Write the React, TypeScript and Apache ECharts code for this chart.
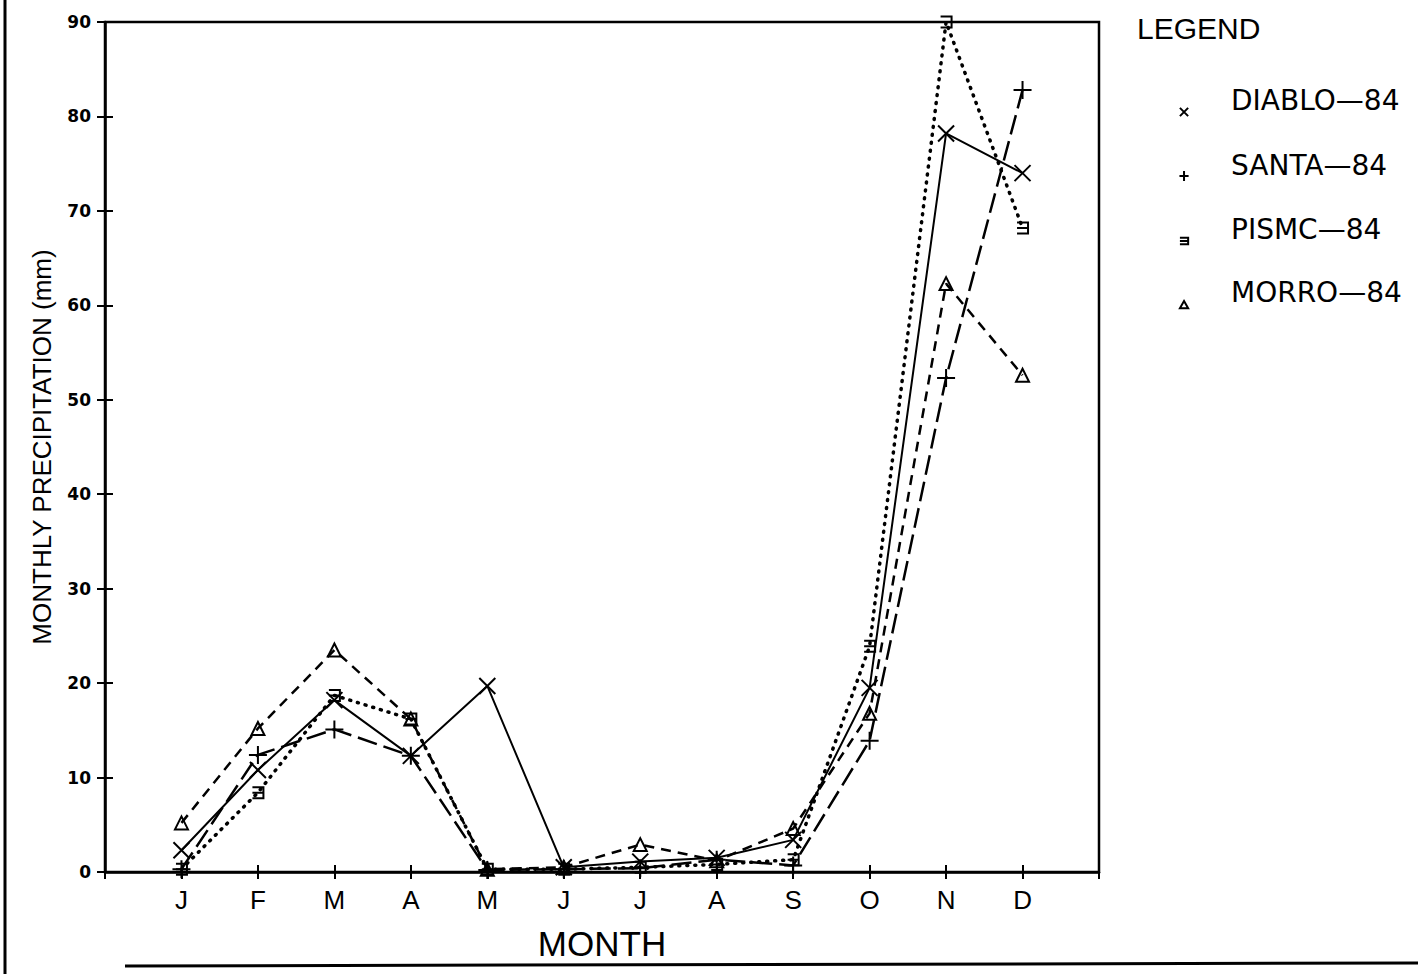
import React, { useEffect, useRef } from "react";
import * as echarts from "echarts";

const MONTHS = ["J", "F", "M", "A", "M", "J", "J", "A", "S", "O", "N", "D"];
const Y_TICKS = [0, 10, 20, 30, 40, 50, 60, 70, 80, 90];

const SERIES_NAMES = ["DIABLO—84", "SANTA—84", "PISMC—84", "MORRO—84"];
const DIABLO = [2.3, 10.8, 18.2, 12.3, 19.7, 0.5, 1.1, 1.5, 3.4, 19.5, 78.2, 74.0];
const SANTA = [0.3, 12.4, 15.1, 12.3, 0.2, 0.3, 0.4, 1.3, 0.7, 13.9, 52.3, 82.8];
const PISMO = [0.3, 8.4, 18.7, 16.2, 0.3, 0.3, 0.5, 0.8, 1.3, 23.9, 90.0, 68.2];
const MORRO = [5.2, 15.2, 23.5, 16.2, 0.3, 0.5, 2.9, 1.2, 4.6, 16.8, 62.3, 52.6];

const X_ICON = "path://M0,0L10,10M0,10L10,0";
const PLUS_ICON = "path://M5,0L5,10M0,5L10,5";
const BRACKET_ICON = "path://M0,0L9,0L9,10L0,10M0,5L9,5";
const TRI_ICON = "path://M5,0L10,9L0,9Z";

// legend icons: invisible move-to points widen the box so the mark sits low and left
const LEG_PAD = "M0,-24M51.4,-24";
const LEG_X = "path://" + LEG_PAD + "M1,1L10,10M1,10L10,1";
const LEG_PLUS = "path://" + LEG_PAD + "M5.5,0L5.5,11M0.5,5.5L10.5,5.5";
const LEG_EQ = "path://" + LEG_PAD + "M1,2L10,2L10,9L1,9M1,5.5L10,5.5";
const LEG_TRI = "path://" + LEG_PAD + "M5.5,2L10,10L1,10Z";

export default function App() {
  const ref = useRef<HTMLDivElement>(null);

  useEffect(() => {
    if (!ref.current) return;
    const chart = echarts.init(ref.current, null, { renderer: "svg" });

    const toPts = (arr: number[]) => arr.map((v, i) => [i + 1, v]);
    const styles = [
      { data: DIABLO, symbol: X_ICON, legendIcon: LEG_X, size: 16, type: "solid" as any, width: 2, cap: "butt" },
      { data: SANTA, symbol: PLUS_ICON, legendIcon: LEG_PLUS, size: 18, type: [20, 7], width: 2.5, cap: "butt" },
      { data: PISMO, symbol: BRACKET_ICON, legendIcon: LEG_EQ, size: 11, type: [1, 7], width: 3.5, cap: "round" },
      { data: MORRO, symbol: TRI_ICON, legendIcon: LEG_TRI, size: 13, type: [10, 7], width: 2.5, cap: "butt" },
    ];

    const axisFont = "'Liberation Sans', Arial, sans-serif";

    const option: any = {
      animation: false,
      backgroundColor: "#fff",
      title: {
        text: "LEGEND",
        left: 1132,
        top: 8,
        textStyle: { fontFamily: axisFont, fontSize: 30, fontWeight: "normal", color: "#000" },
      },
      legend: {
        orient: "vertical",
        left: 1173,
        top: 79,
        itemWidth: 47,
        itemHeight: 40,
        itemGap: 31,
        symbolKeepAspect: true,
        selectedMode: false,
        data: SERIES_NAMES.map((n, i) => ({ name: n, icon: styles[i].legendIcon })),
        itemStyle: { color: "transparent", borderColor: "#000", borderWidth: 2 },
        textStyle: {
          fontFamily: "'DejaVu Sans', sans-serif",
          fontSize: 28,
          color: "#000",
        },
      },
      grid: {
        left: 105,
        right: 319,
        top: 22,
        bottom: 102,
        show: true,
        borderColor: "#000",
        borderWidth: 2.5,
      },
      xAxis: [
        {
          type: "value",
          min: 0,
          max: 13,
          interval: 1,
          position: "bottom",
          name: "MONTH",
          nameLocation: "middle",
          nameGap: 54,
          nameTextStyle: { fontFamily: axisFont, fontSize: 35, color: "#000" },
          axisLine: { show: true, lineStyle: { color: "#000", width: 2.5 } },
          axisTick: { show: true, inside: false, length: 7, lineStyle: { color: "#000", width: 2 } },
          axisLabel: {
            margin: 15,
            fontFamily: axisFont,
            fontSize: 26,
            color: "#000",
            formatter: (v: number) => MONTHS[v - 1] ?? "",
          },
          splitLine: { show: false },
        },
        {
          type: "value",
          min: 0,
          max: 13,
          interval: 1,
          position: "bottom",
          axisLine: { show: false },
          axisTick: { show: true, inside: true, length: 7, lineStyle: { color: "#000", width: 2 } },
          axisLabel: { show: false },
          splitLine: { show: false },
        },
      ],
      yAxis: [
        {
          type: "value",
          min: Y_TICKS[0],
          max: Y_TICKS[Y_TICKS.length - 1],
          interval: 10,
          position: "left",
          name: "MONTHLY PRECIPITATION (mm)",
          nameLocation: "middle",
          nameGap: 50,
          nameRotate: 90,
          nameTextStyle: { fontFamily: axisFont, fontSize: 26, color: "#000" },
          axisLine: { show: true, lineStyle: { color: "#000", width: 2.5 } },
          axisTick: { show: true, inside: false, length: 8, lineStyle: { color: "#000", width: 2 } },
          axisLabel: {
            margin: 14,
            fontFamily: "'DejaVu Sans', sans-serif",
            fontWeight: "bold",
            fontSize: 17,
            color: "#000",
          },
          splitLine: { show: false },
        },
        {
          type: "value",
          min: Y_TICKS[0],
          max: Y_TICKS[Y_TICKS.length - 1],
          interval: 10,
          position: "left",
          axisLine: { show: false },
          axisTick: { show: true, inside: true, length: 8, lineStyle: { color: "#000", width: 2 } },
          axisLabel: { show: false },
          splitLine: { show: false },
        },
      ],
      series: styles.map((s, i) => ({
        name: SERIES_NAMES[i],
        type: "line",
        xAxisIndex: 0,
        yAxisIndex: 0,
        data: toPts(s.data),
        symbol: s.symbol,
        symbolSize: s.size,
        showAllSymbol: true,
        lineStyle: { color: "#000", width: s.width, type: s.type, cap: s.cap },
        itemStyle: { color: "transparent", borderColor: "#000", borderWidth: 2 },
        emphasis: { disabled: true },
      })),
      graphic: [
        {
          type: "line",
          shape: { x1: 5, y1: 0, x2: 5, y2: 974 },
          style: { stroke: "#000", lineWidth: 3 },
        },
        {
          type: "line",
          shape: { x1: 125, y1: 966, x2: 1418, y2: 963 },
          style: { stroke: "#000", lineWidth: 3 },
        },
      ],
    };

    chart.setOption(option);
    return () => chart.dispose();
  }, []);

  return (
    <div
      ref={ref}
      style={{ position: "fixed", left: 0, top: 0, width: 1418, height: 974, background: "#fff" }}
    />
  );
}
